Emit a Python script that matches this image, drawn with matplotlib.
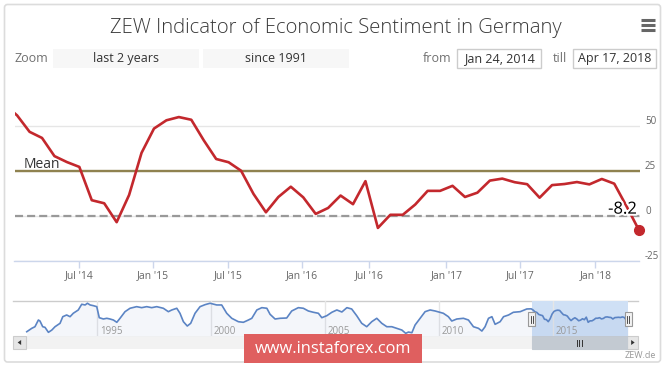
import numpy as np
import matplotlib
matplotlib.use("Agg")
import matplotlib.pyplot as plt
import matplotlib.transforms as mtransforms
from matplotlib.patches import Rectangle, FancyBboxPatch, Polygon
import matplotlib.patheffects as pe

plt.rcParams['font.family'] = ['Open Sans', 'DejaVu Sans']
plt.rcParams['lines.scale_dashes'] = False

# ---------------- data ----------------
title = "ZEW Indicator of Economic Sentiment in Germany"
# monthly ZEW sentiment, Jan 2014 .. Apr 2018
zew_values = [61.7, 55.7, 46.6, 43.2, 33.1, 29.8, 27.1, 8.6, 6.9, -3.6, 11.5, 34.9,
              48.4, 53.0, 54.8, 53.3, 41.9, 31.5, 29.7, 25.0, 12.1, 1.9, 10.4, 16.1,
              10.2, 1.0, 4.3, 11.2, 6.4, 19.2, -6.8, 0.5, 0.5, 6.2, 13.8, 13.8,
              16.6, 10.4, 12.8, 19.5, 20.6, 18.6, 17.5, 10.0, 17.0, 17.6, 18.7, 17.4,
              20.4, 17.8, 5.1, -8.2]
mean_value = 24.9
last_label = "-8.2"
x_tick_labels = ["Jul '14", "Jan '15", "Jul '15", "Jan '16", "Jul '16", "Jan '17", "Jul '17", "Jan '18"]
x_tick_pos = [6.0, 11.95, 17.97, 23.92, 29.31, 35.5, 41.45, 47.48]   # ordinal axis positions
y_ticks = [-25, 0, 25, 50]

# navigator history 1991-2013 (decimal year, value)
nav_years = [1991.92, 1992.14, 1992.28, 1992.43, 1992.50, 1992.62, 1992.72, 1992.87, 1993.02, 1993.16,
             1993.38, 1993.50, 1993.67, 1993.82, 1993.96, 1994.18, 1994.33, 1994.48, 1994.58, 1994.70,
             1994.84, 1994.99, 1995.10, 1995.28, 1995.43, 1995.57, 1995.72, 1995.87, 1996.01, 1996.23,
             1996.45, 1996.74, 1996.96, 1997.18, 1997.40, 1997.62, 1997.91, 1998.13, 1998.28, 1998.50,
             1998.64, 1998.79, 1998.96, 1999.11, 1999.30, 1999.52, 1999.74, 1999.96, 2000.25, 2000.47,
             2000.69, 2000.91, 2001.20, 2001.42, 2001.64, 2001.79, 2002.01, 2002.23, 2002.45, 2002.59,
             2002.81, 2003.03, 2003.32, 2003.54, 2003.83, 2004.05, 2004.27, 2004.49, 2004.71, 2004.86,
             2005.08, 2005.30, 2005.52, 2005.74, 2005.96, 2006.17, 2006.39, 2006.61, 2006.83, 2007.05,
             2007.27, 2007.49, 2007.71, 2007.93, 2008.15, 2008.37, 2008.54, 2008.66, 2008.81, 2008.95,
             2009.17, 2009.39, 2009.61, 2009.83, 2010.19, 2010.41, 2010.56, 2010.78, 2011.07, 2011.29,
             2011.51, 2011.73, 2011.88, 2012.02, 2012.17, 2012.32, 2012.46, 2012.68, 2012.83, 2013.05,
             2013.26, 2013.56, 2013.85]
nav_values = [-54.8, -37.5, -29.3, 4.8, -0.3, -29.3, -32.4, -57.9, -46.2, -29.3,
              -12.0, 21.7, 30.3, 21.7, 39.0, 55.8, 84.9, 81.3, 90.0, 81.3,
              77.8, 72.7, 16.6, 10.0, 13.5, 10.0, 4.8, -6.9, 13.5, 47.2,
              64.5, 72.7, 67.6, 72.7, 67.6, 72.7, 64.5, 47.2, 55.8, 64.5,
              39.0, -3.8, -25.8, -12.0, 39.0, 72.7, 82.9, 90.0, 81.3, 81.3,
              39.0, 13.5, -3.8, -6.9, 4.8, 13.5, 55.8, 67.6, 64.5, 33.9,
              9.9, 13.5, 15.0, 50.7, 67.6, 64.5, 50.7, 44.1, 39.0, 16.6,
              26.8, 44.1, 55.8, 45.6, 67.6, 60.9, 26.8, -12.0, -29.3, -3.8,
              13.5, -12.0, -29.3, -29.3, -37.5, -46.2, -63.0, -56.4, -59.9, -20.7,
              13.5, 47.2, 55.8, 50.7, 39.0, 21.7, -0.3, 9.9, 13.5, 4.8,
              -29.3, -37.5, -51.3, -29.3, 13.5, 21.7, -17.1, -3.8, 21.7, 30.3,
              44.1, 47.2, 60.9]
nav_tick_years = [1995, 2000, 2005, 2010, 2015]
sel_start, sel_end = 2014.06, 2018.29   # Jan 24, 2014 .. Apr 17, 2018

zoom_buttons = ["last 2 years", "since 1991"]
from_text, till_text = "Jan 24, 2014", "Apr 17, 2018"

# ---------------- figure ----------------
W, H = 665, 365
fig = plt.figure(figsize=(W / 100, H / 100), dpi=100, facecolor='white')


def px_rect(x0, y0, x1, y1):
    return [x0 / W, 1 - y1 / H, (x1 - x0) / W, (y1 - y0) / H]


bg = fig.add_axes([0, 0, 1, 1], zorder=0)
bg.set_xlim(0, W); bg.set_ylim(H, 0); bg.axis('off')
fg = fig.add_axes([0, 0, 1, 1], zorder=10)
fg.set_xlim(0, W); fg.set_ylim(H, 0); fg.axis('off'); fg.patch.set_alpha(0)

renderer = fig.canvas.get_renderer()


def fit_text(ax, x, y, s, target_w, **kw):
    t = ax.text(x, y, s, fontsize=10, **kw)
    w = t.get_window_extent(renderer).width
    t.set_fontsize(10 * target_w / w)
    return t


# outer frame
bg.add_patch(FancyBboxPatch((4.5, 4.5), 656, 357.5, boxstyle="round,pad=0,rounding_size=3",
                            facecolor='white', edgecolor='#dcdcdc', lw=1.2))

# title
fit_text(bg, 335.5, 32.5, title, 451, ha='center', va='baseline', color='#3a3a3a', fontweight='light')

# hamburger
for yy in (20, 25, 30):
    bg.plot([641, 655], [yy, yy], color='#666666', lw=2.2, solid_capstyle='butt')

# zoom row
fs_row = 9
bg.text(14.5, 58.5, "Zoom", ha='left', va='center', fontsize=fs_row, color='#707070')
for (x0, x1), lab in zip([(52.7, 199), (203, 349)], zoom_buttons):
    bg.add_patch(Rectangle((x0, 49.3), x1 - x0, 19, facecolor='#f7f7f7', edgecolor='none'))
    bg.text((x0 + x1) / 2, 58.5, lab, ha='center', va='center', fontsize=fs_row, color='#333333')
bg.text(451, 58.5, "from", ha='right', va='center', fontsize=fs_row, color='#707070')
bg.text(567, 58.5, "till", ha='right', va='center', fontsize=fs_row, color='#707070')
for (x0, x1), lab in zip([(457, 541), (573, 656)], [from_text, till_text]):
    bg.add_patch(Rectangle((x0, 49.3), x1 - x0, 19, facecolor='white', edgecolor='#cccccc', lw=1))
    bg.text((x0 + x1) / 2, 58.5, lab, ha='center', va='center', fontsize=fs_row, color='#333333')

# ---------------- main chart ----------------
ax = fig.add_axes(px_rect(14.5, 100.5, 639.5, 260.7), zorder=2)
ax.patch.set_alpha(0)
idx = np.arange(len(zew_values))
ax.set_xlim(0.788, 51.03)
ax.set_ylim(-25, 64)
for s in ('top', 'left', 'right'):
    ax.spines[s].set_visible(False)
ax.spines['bottom'].set_color('#ccd6eb')
ax.spines['bottom'].set_linewidth(1)
for v in y_ticks:
    ax.axhline(v, color='#e6e6e6', lw=1, zorder=0)
ax.axhline(0, color='#999999', lw=1.6, dashes=(5.8, 2.9), zorder=1)
ax.axhline(mean_value, color='#8f8250', lw=1.7, zorder=1)
ax.text(0.0152, mean_value, "Mean", transform=mtransforms.blended_transform_factory(ax.transAxes, ax.transData)
        + mtransforms.ScaledTranslation(0, 3 / 100, fig.dpi_scale_trans),
        ha='left', va='baseline', fontsize=10, color='#333333')
ax.plot(idx, zew_values, color='#c3282d', lw=1.9, solid_joinstyle='round', zorder=3)
ax.plot(idx[-1], zew_values[-1], 'o', ms=7, color='#c3282d', clip_on=False, zorder=4)
ax.annotate(last_label, (idx[-1], zew_values[-1]), xytext=(-12, 15), textcoords='offset points',
            ha='center', va='center', fontsize=12, color='black', zorder=5, annotation_clip=False,
            path_effects=[pe.withStroke(linewidth=3, foreground='white')])
ax.set_yticks([])
ax.set_xticks(x_tick_pos, x_tick_labels)
ax.tick_params(axis='x', length=5, width=1, color='#ccd6eb', labelcolor='#666666', labelsize=7.5, pad=2)
ytrans = mtransforms.blended_transform_factory(ax.transAxes, ax.transData) + \
    mtransforms.ScaledTranslation(5.5 / 100, 4 / 100, fig.dpi_scale_trans)
for v in y_ticks:
    ax.text(1.0, v, f"{v}", transform=ytrans, ha='left', va='center', fontsize=7, color='#666666')

# ---------------- navigator ----------------
nx0, nx1, ny0, ny1 = 13.3, 638.3, 300.7, 335.7
nav = fig.add_axes(px_rect(nx0, ny0, nx1, ny1), zorder=2)
nav.patch.set_alpha(0)
xmin, xmax = 1991.33, 2018.74
nav.set_xlim(xmin, xmax)
nav.set_ylim(-75, 103)
nav.axis('off')
yrs = list(nav_years) + [2014 + (i + 0.5) / 12 for i in range(len(zew_values))]
vals = list(nav_values) + list(zew_values)
nav.axvspan(sel_start, sel_end, color='#cfe0f5', lw=0, zorder=0.5)
nav.fill_between(yrs, vals, -75, color='#335cad', alpha=0.05, lw=0, zorder=1)
nav.plot(yrs, vals, color='#5b84c4', lw=1.2, zorder=2)
for ty in nav_tick_years:
    nav.axvline(ty, color='#e6e6e6', lw=1, zorder=0.7)
    nav.text(ty, 0.13, str(ty), transform=mtransforms.blended_transform_factory(nav.transData, nav.transAxes)
             + mtransforms.ScaledTranslation(3 / 100, 0, fig.dpi_scale_trans),
             ha='left', va='center', fontsize=7, color='#999999', zorder=3)


def nav_px(yr):
    return nx0 + (yr - xmin) / (xmax - xmin) * (nx1 - nx0)


bg.plot([nx0, nx1], [ny0, ny0], color='#cccccc', lw=1)
sx0, sx1 = nav_px(sel_start), nav_px(sel_end)
for hx in (sx0, sx1):
    fg.add_patch(Rectangle((hx - 3.5, 312), 7, 14, facecolor='#f2f2f2', edgecolor='#999999', lw=0.8))
    for dx in (-1, 1):
        fg.plot([hx + dx, hx + dx], [315.5, 322.5], color='#333333', lw=0.6)

# scrollbar
sy0, sy1 = 335.7, 349.3
bg.add_patch(Rectangle((26, sy0), 601, sy1 - sy0, facecolor='#f2f2f2', edgecolor='none'))
for bx0, bx1, d in ((13.3, 26, -1), (627, 638.3, 1)):
    bg.add_patch(Rectangle((bx0, sy0), bx1 - bx0, sy1 - sy0, facecolor='#e6e6e6', edgecolor='#cccccc', lw=0.8))
    cx, cy = (bx0 + bx1) / 2, (sy0 + sy1) / 2
    bg.add_patch(Polygon([(cx + 2 * d, cy), (cx - 1.5 * d, cy - 2.5), (cx - 1.5 * d, cy + 2.5)],
                         closed=True, facecolor='#333333', edgecolor='none'))
bg.add_patch(Rectangle((sx0, sy0), min(sx1, 627) - sx0, sy1 - sy0, facecolor='#c3cad2', edgecolor='#c3cad2', lw=0.8))
rc = (sx0 + min(sx1, 627)) / 2
for dx in (-2.5, 0, 2.5):
    bg.plot([rc + dx, rc + dx], [339.5, 345.5], color='#333333', lw=0.7)

# credit
bg.text(656, 356, "ZEW.de", ha='right', va='center', fontsize=6.5, color='#999999')

# watermark
fg.add_patch(Rectangle((244.3, 334.3), 177.4, 29, facecolor='#df5f5f', edgecolor='none'))
fit_text(fg, 333, 349, "www.instaforex.com", 156, ha='center', va='center', color='white')

fig.savefig("out.png", dpi=100, facecolor='white')
